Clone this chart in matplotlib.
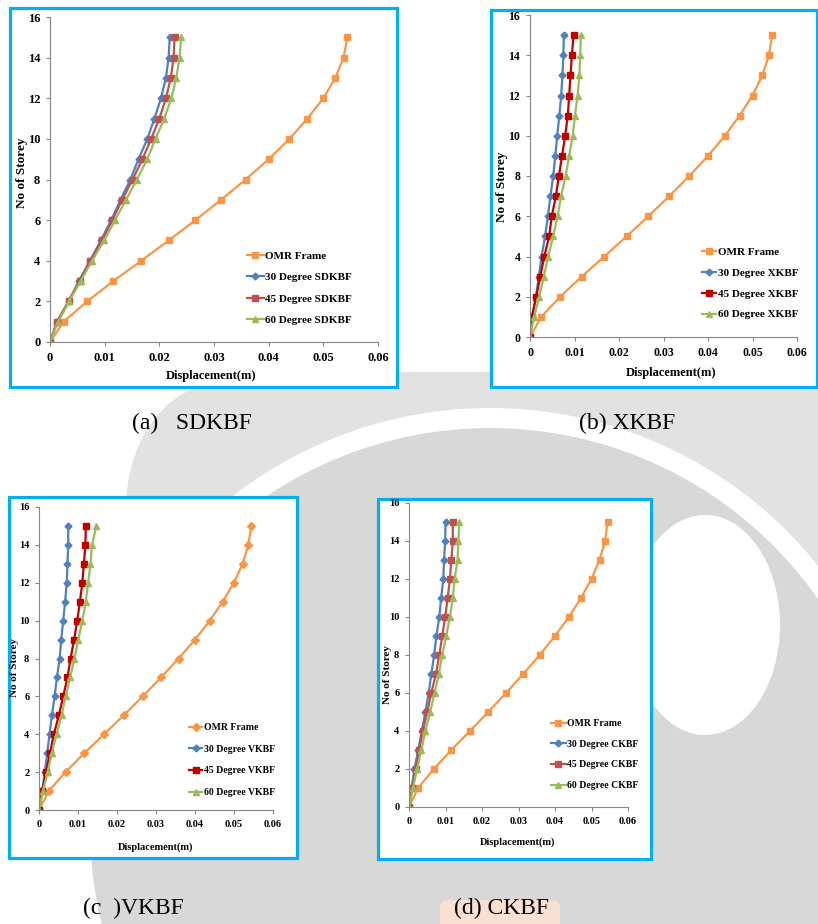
import numpy as np
import matplotlib
matplotlib.use("Agg")
import matplotlib.pyplot as plt
from matplotlib.patches import Rectangle, Circle, FancyBboxPatch, Ellipse
from matplotlib.transforms import Affine2D

plt.rcParams['font.family'] = ['Liberation Serif', 'DejaVu Serif']

# ---------------- data ----------------
storeys = list(range(0, 16))

omr_frame = [0, 0.0025, 0.0068, 0.0116, 0.0167, 0.0217, 0.0266, 0.0313, 0.0358,
             0.0400, 0.0438, 0.0471, 0.0500, 0.0522, 0.0537, 0.0544]

sdkbf_30 = [0, 0.0013, 0.0034, 0.0053, 0.0073, 0.0093, 0.0112, 0.0129, 0.0147,
            0.0162, 0.0178, 0.0191, 0.0203, 0.0212, 0.0217, 0.0219]
sdkbf_45 = [0, 0.0013, 0.0034, 0.0054, 0.0074, 0.0095, 0.0114, 0.0132, 0.0151,
            0.0169, 0.0185, 0.0200, 0.0212, 0.0221, 0.0226, 0.0228]
sdkbf_60 = [0, 0.0015, 0.0035, 0.0056, 0.0077, 0.0099, 0.0119, 0.0139, 0.0159,
            0.0178, 0.0193, 0.0209, 0.0222, 0.0231, 0.0237, 0.0240]

xkbf_30 = [0, 0.0005, 0.0013, 0.0020, 0.0026, 0.0034, 0.0040, 0.0046, 0.0052,
           0.0057, 0.0061, 0.0066, 0.0070, 0.0073, 0.0075, 0.0076]
xkbf_45 = [0, 0.0004, 0.0014, 0.0023, 0.0032, 0.0043, 0.0049, 0.0058, 0.0065,
           0.0072, 0.0079, 0.0085, 0.0088, 0.0091, 0.0094, 0.0098]
xkbf_60 = [0, 0.0009, 0.0021, 0.0031, 0.0041, 0.0052, 0.0062, 0.0070, 0.0080,
           0.0088, 0.0096, 0.0101, 0.0107, 0.0111, 0.0113, 0.0114]

vkbf_30 = [0, 0.0008, 0.0015, 0.0021, 0.0027, 0.0033, 0.0040, 0.0046, 0.0053,
           0.0057, 0.0062, 0.0067, 0.0071, 0.0073, 0.0075, 0.0075]
vkbf_45 = [0, 0.0008, 0.0018, 0.0028, 0.0038, 0.0051, 0.0062, 0.0073, 0.0081,
           0.0090, 0.0098, 0.0105, 0.0111, 0.0115, 0.0119, 0.0120]
vkbf_60 = [0, 0.0010, 0.0022, 0.0033, 0.0045, 0.0058, 0.0068, 0.0080, 0.0091,
           0.0101, 0.0111, 0.0120, 0.0126, 0.0132, 0.0136, 0.0147]

ckbf_30 = [0, 0.0007, 0.0015, 0.0025, 0.0035, 0.0045, 0.0054, 0.0061, 0.0069,
           0.0075, 0.0083, 0.0088, 0.0094, 0.0096, 0.0099, 0.0100]
ckbf_45 = [0, 0.0009, 0.0019, 0.0028, 0.0038, 0.0050, 0.0061, 0.0074, 0.0083,
           0.0091, 0.0099, 0.0106, 0.0112, 0.0116, 0.0120, 0.0120]
ckbf_60 = [0, 0.0011, 0.0022, 0.0034, 0.0045, 0.0058, 0.0070, 0.0082, 0.0091,
           0.0102, 0.0112, 0.0120, 0.0125, 0.0133, 0.0135, 0.0138]

x_ticks = [0, 0.01, 0.02, 0.03, 0.04, 0.05, 0.06]
x_tick_labels = ['0', '0.01', '0.02', '0.03', '0.04', '0.05', '0.06']
y_ticks = [0, 2, 4, 6, 8, 10, 12, 14, 16]

captions = ['(a)   SDKBF', '(b) XKBF', '(c  )VKBF', '(d) CKBF']
y_label = 'No of Storey'
x_label = 'Displacement(m)'

# ---------------- figure ----------------
W, H = 818, 924
fig = plt.figure(figsize=(W / 100, H / 100), dpi=100)
fig.patch.set_facecolor('white')

# pixel coordinates, origin top-left
px = Affine2D().scale(1 / W, -1 / H).translate(0, 1) + fig.transFigure


def ax_rect(x0, y0, x1, y1):
    return [x0 / W, 1 - y1 / H, (x1 - x0) / W, (y1 - y0) / H]


# faint background emblem
light, mid = '#e2e2e2', '#d8d8d8'
fig.patches.append(FancyBboxPatch((125, 372), 800, 700,
                                  boxstyle='round,pad=0,rounding_size=150',
                                  transform=px, facecolor=light, edgecolor='none',
                                  zorder=-20))
fig.patches.append(Circle((490, 828), 410, transform=px, facecolor=mid,
                          edgecolor='white', lw=14.4, zorder=-19))
fig.patches.append(Ellipse((705, 625), 150, 220, transform=px,
                           facecolor='white', edgecolor='none', zorder=-18))
fig.patches.append(FancyBboxPatch((440, 900), 120, 30,
                                  boxstyle='round,pad=0,rounding_size=8',
                                  transform=px, facecolor='#f9e0d0',
                                  edgecolor='none', zorder=-17))

ORANGE = '#F79646'
BLUE = '#4F81BD'
RED = '#C0504D'
DARKRED = '#C00000'
GREEN = '#9BBB59'

panels = [
    dict(box=(10, 8, 397, 387), axes=(50, 17, 378, 342),
         series=[sdkbf_30, sdkbf_45, sdkbf_60], tag='SDKBF', red=RED,
         omr_marker='s', tick_fs=9, leg_fs=8, lab_fs=9,
         ylab=(-0.085, 0.52), xlab=(0.49, -0.105),
         leg=(247, 251), leg_space=1.05, hl=1.5, caption=(192, 423)),
    dict(box=(491, 10, 817, 387), axes=(530, 15, 797, 337),
         series=[xkbf_30, xkbf_45, xkbf_60], tag='XKBF', red=DARKRED,
         omr_marker='s', tick_fs=8.5, leg_fs=8, lab_fs=9,
         ylab=(-0.105, 0.466), xlab=(0.53, -0.112),
         leg=(702, 247), leg_space=1.0, hl=1.3, caption=(627, 423)),
    dict(box=(9, 497, 297, 858), axes=(39, 507, 273, 810),
         series=[vkbf_30, vkbf_45, vkbf_60], tag='VKBF', red=DARKRED,
         omr_marker='D', tick_fs=7.5, leg_fs=7, lab_fs=7.5,
         ylab=(-0.105, 0.469), xlab=(0.5, -0.122),
         leg=(189, 723), leg_space=1.3, hl=1.35, caption=(133, 908)),
    dict(box=(378, 499, 651, 859), axes=(409, 503, 628, 807),
         series=[ckbf_30, ckbf_45, ckbf_60], tag='CKBF', red=RED,
         omr_marker='s', tick_fs=7.5, leg_fs=7, lab_fs=7.5,
         ylab=(-0.10, 0.4375), xlab=(0.498, -0.115),
         leg=(551, 719), leg_space=1.2, hl=1.5, caption=(502, 908)),
]

for p, cap in zip(panels, captions):
    x0, y0, x1, y1 = p['box']
    fig.patches.append(Rectangle((x0, y0), x1 - x0, y1 - y0, transform=px,
                                 facecolor='white', edgecolor='#00B0F0',
                                 lw=2.3, zorder=-5))

    ax = fig.add_axes(ax_rect(*p['axes']))
    ax.set_facecolor('none')

    ax.plot(omr_frame, storeys, color=ORANGE, lw=1.6, marker=p['omr_marker'],
            ms=4.2, label='OMR Frame')
    s30, s45, s60 = p['series']
    ax.plot(s30, storeys, color=BLUE, lw=1.6, marker='D', ms=3.5,
            label='30 Degree ' + p['tag'])
    ax.plot(s45, storeys, color=p['red'], lw=1.6, marker='s',
            ms=(4.5 if p['red'] == RED else 3.8),
            label='45 Degree ' + p['tag'])
    ax.plot(s60, storeys, color=GREEN, lw=1.6, marker='^', ms=4.8,
            label='60 Degree ' + p['tag'])

    ax.set_xlim(0, 0.06)
    ax.set_ylim(0, 16)
    ax.set_xticks(x_ticks)
    ax.set_xticklabels(x_tick_labels)
    ax.set_yticks(y_ticks)
    for side in ('top', 'right'):
        ax.spines[side].set_visible(False)
    for side in ('left', 'bottom'):
        ax.spines[side].set_color('#868686')
        ax.spines[side].set_linewidth(0.8)
    ax.tick_params(direction='out', length=3, width=0.8, color='#868686',
                   labelsize=p['tick_fs'], pad=4)
    for lbl in ax.get_xticklabels() + ax.get_yticklabels():
        lbl.set_fontweight('bold')

    ax.set_ylabel(y_label, fontsize=p['lab_fs'] + 0.5, fontweight='bold')
    ax.yaxis.label.set_va('center')
    ax.yaxis.set_label_coords(*p['ylab'])
    ax.set_xlabel(x_label, fontsize=p['lab_fs'], fontweight='bold')
    ax.xaxis.label.set_va('center')
    ax.xaxis.set_label_coords(*p['xlab'])

    lx, ly = p['leg']
    ax.legend(loc='upper left', bbox_to_anchor=(lx / W, 1 - ly / H),
              bbox_transform=fig.transFigure, frameon=False, borderpad=0,
              borderaxespad=0, handlelength=p['hl'], handletextpad=0.15,
              labelspacing=p['leg_space'],
              prop=dict(family='Liberation Serif', weight='bold',
                        size=p['leg_fs']))

    cx, cy = p['caption']
    fig.text(cx / W, 1 - cy / H, cap, ha='center', va='center',
             fontsize=17, family='Liberation Serif')

fig.savefig('out.png', dpi=100, facecolor='white')
